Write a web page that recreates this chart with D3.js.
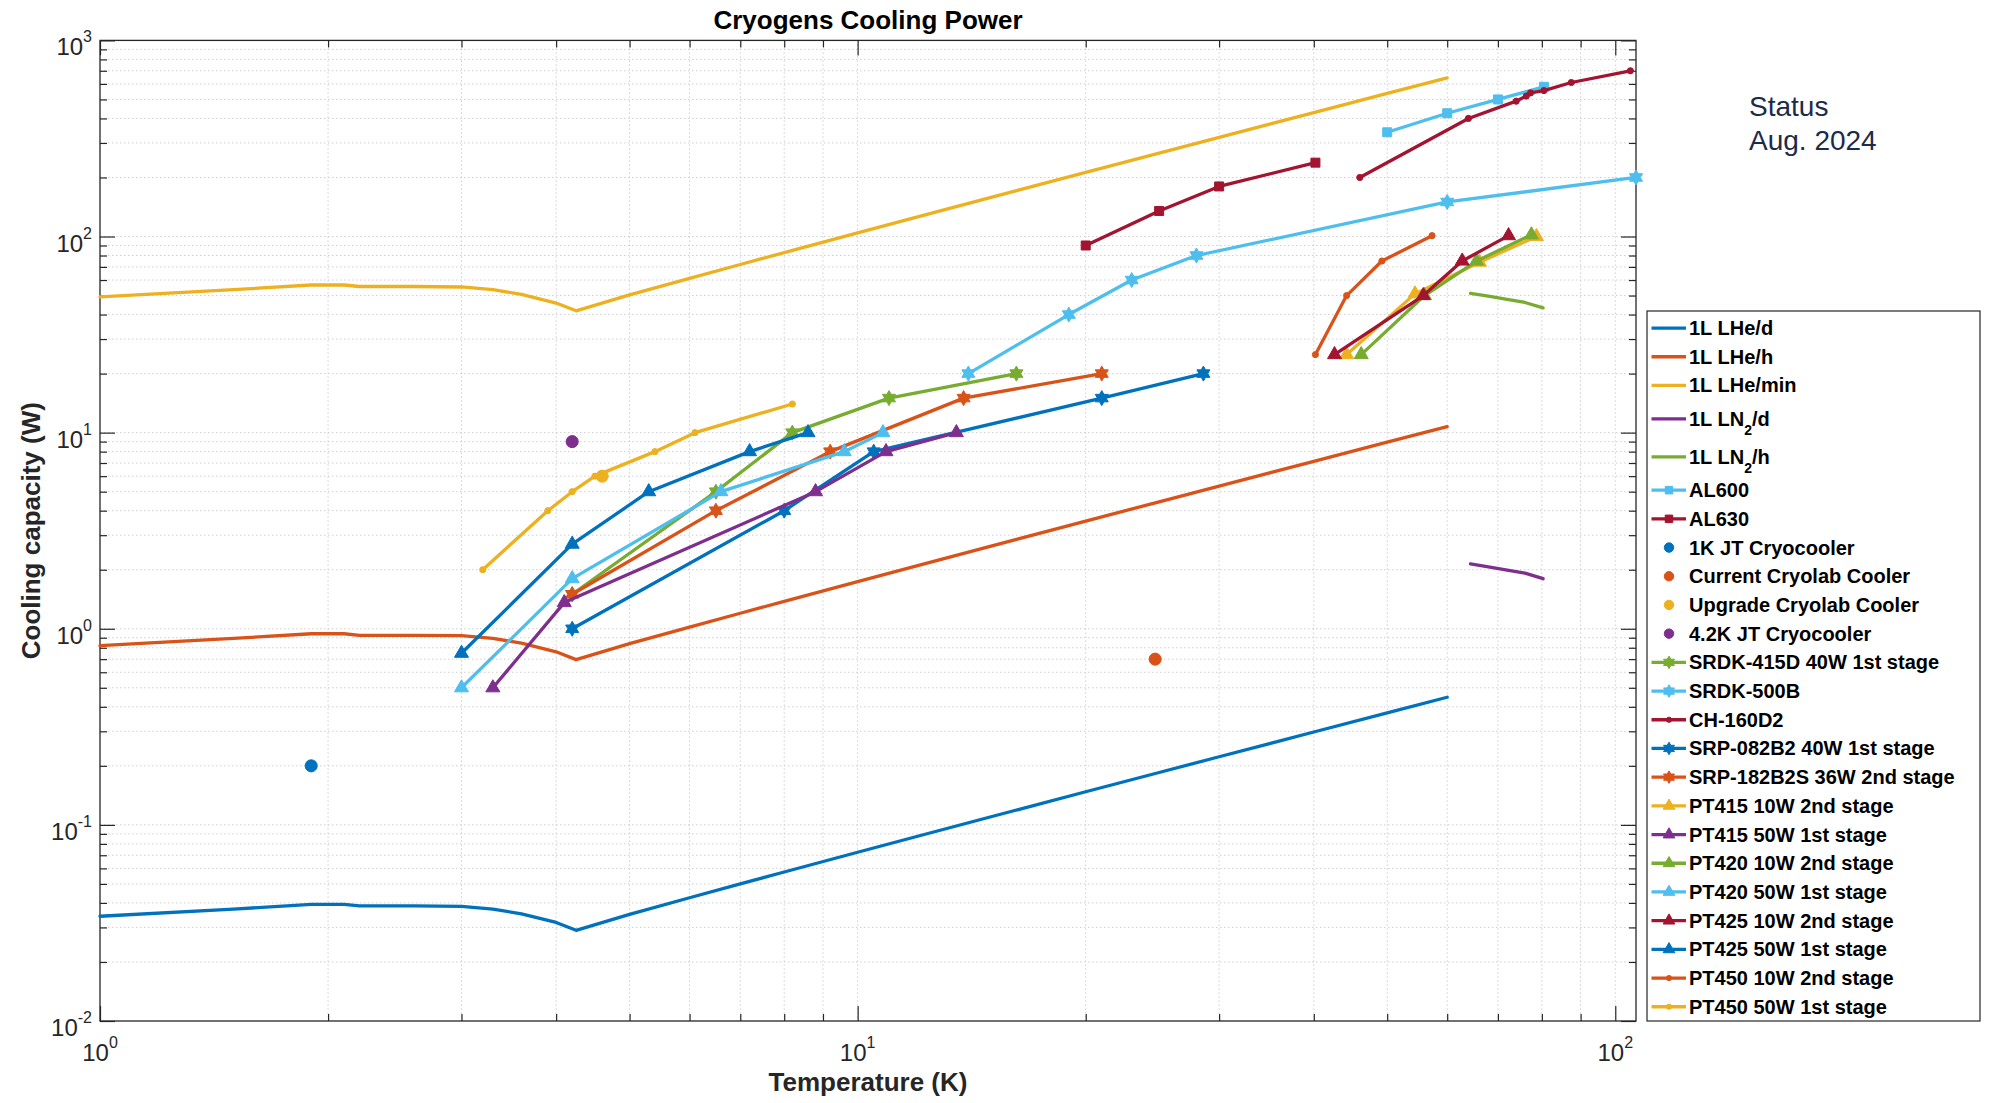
<!DOCTYPE html>
<html>
<head>
<meta charset="utf-8">
<script src="https://cdn.jsdelivr.net/npm/d3@7"></script>
<style>
  body { margin: 0; background: #fff; }
  svg { display: block; font-family: "Liberation Sans", Arial, sans-serif; }
</style>
</head>
<body>
<svg id="chart" width="1995" height="1103"></svg>
<script>
// Cryogens cooling power - log/log chart

// liquid helium boil-off curves (same temperatures for the 3 rates)
const heTemps = [1, 1.5, 1.9, 2.1, 2.2, 2.6, 3.0, 3.3, 3.6, 4.0, 4.25, 5, 6, 7, 8, 10, 12, 15, 20, 25, 30, 40, 50, 60];
const lheDay  = [0.0342, 0.0372, 0.0393, 0.0393, 0.0386, 0.0386, 0.0384, 0.0372, 0.0352, 0.0318, 0.0290, 0.0350, 0.0425, 0.0500, 0.0575, 0.0725, 0.0875, 0.110, 0.1475, 0.185, 0.2225, 0.2975, 0.3725, 0.4475];
const lheHour = [0.821, 0.893, 0.943, 0.943, 0.926, 0.926, 0.922, 0.893, 0.845, 0.763, 0.696, 0.840, 1.02, 1.20, 1.38, 1.74, 2.10, 2.64, 3.54, 4.44, 5.34, 7.14, 8.94, 10.74];
const lheMin  = [49.2, 53.6, 56.6, 56.6, 55.6, 55.6, 55.3, 53.6, 50.7, 45.8, 41.8, 50.4, 61.2, 72.0, 82.8, 104.4, 126, 158.4, 212.4, 266.4, 320.4, 428.4, 536.4, 644.4];

// liquid nitrogen
const ln2Temps = [64.4, 68, 72, 76, 80.3];
const ln2Day   = [2.14, 2.07, 1.99, 1.92, 1.80];
const ln2Hour  = [51.3, 49.7, 47.8, 46.1, 43.3];

// cryocoolers (T in K, P in W)
const al600T = [50, 60, 70, 80.5],        al600P = [340, 425, 500, 580];
const al630T = [20, 25, 30, 40.2],        al630P = [90, 135, 180, 238];
const jt1kT = [1.9],                      jt1kP = [0.2];
const cryolabT = [24.7],                  cryolabP = [0.7];
const cryolabUpT = [4.6],                 cryolabUpP = [6];
const jt42T = [4.2],                      jt42P = [9];
const srdk415T = [4.2, 6.5, 8.2, 11, 16.2],            srdk415P = [1.5, 5, 10, 15, 20];
const srdk500T = [14, 19, 23, 28, 60, 106.5],          srdk500P = [20, 40, 60, 80, 150, 200];
const ch160T = [46, 64, 74, 76.3, 77.3, 80.5, 87.5, 104.7], ch160P = [200, 400, 490, 520, 540, 555, 610, 700];
const srp082T = [4.2, 8, 10.5, 21, 28.6],              srp082P = [1, 4, 8, 15, 20];
const srp182T = [4.2, 6.5, 9.2, 13.8, 21],             srp182P = [1.5, 4, 8, 15, 20];
const pt415_10T = [44.2, 54.4, 66.2, 78.7],            pt415_10P = [25, 51, 74, 100];
const pt415_50T = [3.3, 4.1, 8.8, 10.9, 13.5],         pt415_50P = [0.5, 1.36, 5, 8, 10];
const pt420_10T = [46.2, 56, 65.6, 77.5],              pt420_10P = [25, 50, 75, 102];
const pt420_50T = [3, 4.2, 6.6, 9.6, 10.8],            pt420_50P = [0.5, 1.8, 5, 8, 10];
const pt425_10T = [42.6, 55.8, 62.8, 72.3],            pt425_10P = [25, 50, 75, 101];
const pt425_50T = [3, 4.2, 5.3, 7.2, 8.6],             pt425_50P = [0.75, 2.7, 5, 8, 10];
const pt450_10T = [40.2, 44.2, 49.2, 57.3],            pt450_10P = [25, 50, 75, 101];
const pt450_50T = [3.2, 3.9, 4.2, 4.5, 5.4, 6.1, 8.2], pt450_50P = [2, 4, 5, 6, 8, 10, 14];

const legendNames = ["1L LHe/d", "1L LHe/h", "1L LHe/min", "1L LN_2/d", "1L LN_2/h",
  "AL600", "AL630", "1K JT Cryocooler", "Current Cryolab Cooler", "Upgrade Cryolab Cooler",
  "4.2K JT Cryocooler", "SRDK-415D 40W 1st stage", "SRDK-500B", "CH-160D2",
  "SRP-082B2 40W 1st stage", "SRP-182B2S 36W 2nd stage", "PT415 10W 2nd stage",
  "PT415 50W 1st stage", "PT420 10W 2nd stage", "PT420 50W 1st stage",
  "PT425 10W 2nd stage", "PT425 50W 1st stage", "PT450 10W 2nd stage", "PT450 50W 1st stage"];

// matlab default colour order
const C = { blue: "#0072BD", orange: "#D95319", yellow: "#EDB120", purple: "#7E2F8E",
            green: "#77AC30", cyan: "#4DBEEE", red: "#A2142F" };

// hexagram marker ('h' in matlab)
const symbolHexagram = {
  draw(ctx, size) {
    const r = Math.sqrt(size) * 0.84, ri = r / Math.sqrt(3);
    for (let i = 0; i < 12; i++) {
      const a = -Math.PI / 2 + i * Math.PI / 6, rr = i % 2 ? ri : r;
      if (i === 0) ctx.moveTo(rr * Math.cos(a), rr * Math.sin(a));
      else ctx.lineTo(rr * Math.cos(a), rr * Math.sin(a));
    }
    ctx.closePath();
  }
};
const M = {
  square: [d3.symbolSquare, 81], dot: [d3.symbolCircle, 30], circle: [d3.symbolCircle, 115],
  hex: [symbolHexagram, 80], tri: [d3.symbolTriangle, 85]
};

const series = [
  { T: heTemps, P: lheDay,  color: C.blue,   line: true },
  { T: heTemps, P: lheHour, color: C.orange, line: true },
  { T: heTemps, P: lheMin,  color: C.yellow, line: true },
  { T: ln2Temps, P: ln2Day,  color: C.purple, line: true },
  { T: ln2Temps, P: ln2Hour, color: C.green,  line: true },
  { T: al600T, P: al600P, color: C.cyan, line: true, marker: "square" },
  { T: al630T, P: al630P, color: C.red,  line: true, marker: "square" },
  { T: jt1kT, P: jt1kP, color: C.blue, marker: "circle" },
  { T: cryolabT, P: cryolabP, color: C.orange, marker: "circle" },
  { T: cryolabUpT, P: cryolabUpP, color: C.yellow, marker: "circle" },
  { T: jt42T, P: jt42P, color: C.purple, marker: "circle" },
  { T: srdk415T, P: srdk415P, color: C.green, line: true, marker: "hex" },
  { T: srdk500T, P: srdk500P, color: C.cyan, line: true, marker: "hex" },
  { T: ch160T, P: ch160P, color: C.red, line: true, marker: "dot" },
  { T: srp082T, P: srp082P, color: C.blue, line: true, marker: "hex" },
  { T: srp182T, P: srp182P, color: C.orange, line: true, marker: "hex" },
  { T: pt415_10T, P: pt415_10P, color: C.yellow, line: true, marker: "tri" },
  { T: pt415_50T, P: pt415_50P, color: C.purple, line: true, marker: "tri" },
  { T: pt420_10T, P: pt420_10P, color: C.green, line: true, marker: "tri" },
  { T: pt420_50T, P: pt420_50P, color: C.cyan, line: true, marker: "tri" },
  { T: pt425_10T, P: pt425_10P, color: C.red, line: true, marker: "tri" },
  { T: pt425_50T, P: pt425_50P, color: C.blue, line: true, marker: "tri" },
  { T: pt450_10T, P: pt450_10P, color: C.orange, line: true, marker: "dot" },
  { T: pt450_50T, P: pt450_50P, color: C.yellow, line: true, marker: "dot" }
];
series.forEach((s, i) => s.name = legendNames[i]);

const svg = d3.select("#chart");
const plot = { left: 100, right: 1636, top: 40.4, bottom: 1021 };
const axisColor = "#262626";

const x = d3.scaleLog().domain([1, 106.5]).range([plot.left, plot.right]);
const y = d3.scaleLog().domain([0.01, 1000]).range([plot.bottom, plot.top]);

const isMajor = v => Math.abs(Math.log10(v) - Math.round(Math.log10(v))) < 1e-9;
const xTicks = x.ticks(), yTicks = y.ticks();

// grid (dotted, minor + major)
const grid = svg.append("g").attr("stroke", "#cfcfcf").attr("stroke-width", 1).attr("stroke-dasharray", "1.5,2.5");
grid.selectAll(".gx").data(xTicks.filter(d => d > 1)).enter().append("line")
  .attr("x1", d => x(d)).attr("x2", d => x(d)).attr("y1", plot.top).attr("y2", plot.bottom);
grid.selectAll(".gy").data(yTicks.filter(d => d > 0.01 && d < 1000)).enter().append("line")
  .attr("y1", d => y(d)).attr("y2", d => y(d)).attr("x1", plot.left).attr("x2", plot.right);

// inward ticks on all four sides
function tickRow(axisFn, scale, vals, size, tr) {
  svg.append("g").attr("transform", tr)
    .call(axisFn(scale).tickValues(vals).tickSize(size).tickFormat(""))
    .call(g => g.select(".domain").remove())
    .selectAll("line").attr("stroke", axisColor).attr("stroke-width", 1.2);
}
[[xTicks.filter(d => !isMajor(d)), -7], [xTicks.filter(isMajor), -15]].forEach(([v, s]) => {
  tickRow(d3.axisBottom, x, v, s, `translate(0,${plot.bottom})`);
  tickRow(d3.axisTop, x, v, s, `translate(0,${plot.top})`);
});
[[yTicks.filter(d => !isMajor(d)), -7], [yTicks.filter(isMajor), -15]].forEach(([v, s]) => {
  tickRow(d3.axisLeft, y, v, s, `translate(${plot.left},0)`);
  tickRow(d3.axisRight, y, v, s, `translate(${plot.right},0)`);
});

svg.append("rect")
  .attr("x", plot.left).attr("y", plot.top)
  .attr("width", plot.right - plot.left).attr("height", plot.bottom - plot.top)
  .attr("fill", "none").attr("stroke", axisColor).attr("stroke-width", 1.3);

// tick labels 10^n
function powLabel(sel, v) {
  sel.append("tspan").attr("font-size", 24).text("10");
  sel.append("tspan").attr("font-size", 16).attr("dy", -13).text(Math.round(Math.log10(v)));
}
yTicks.filter(isMajor).forEach(v => {
  svg.append("text").attr("x", 92).attr("y", y(v) + 15)
    .attr("text-anchor", "end").attr("fill", axisColor).call(powLabel, v);
});
xTicks.filter(isMajor).forEach(v => {
  svg.append("text").attr("x", x(v)).attr("y", 1061)
    .attr("text-anchor", "middle").attr("fill", axisColor).call(powLabel, v);
});

// titles
svg.append("text").attr("x", (plot.left + plot.right) / 2).attr("y", 29)
  .attr("text-anchor", "middle").attr("font-size", 26).attr("font-weight", "bold")
  .attr("fill", "#000").text("Cryogens Cooling Power");
svg.append("text").attr("x", (plot.left + plot.right) / 2).attr("y", 1091)
  .attr("text-anchor", "middle").attr("font-size", 26).attr("font-weight", "bold")
  .attr("fill", axisColor).text("Temperature (K)");
svg.append("text")
  .attr("transform", `translate(40,${(plot.top + plot.bottom) / 2}) rotate(-90)`)
  .attr("text-anchor", "middle").attr("font-size", 26).attr("font-weight", "bold")
  .attr("fill", axisColor).text("Cooling capacity (W)");

// series
const line = d3.line().x(d => x(d[0])).y(d => y(d[1]));
const gSeries = svg.append("g");
series.forEach(s => {
  const pts = s.T.map((t, i) => [t, s.P[i]]);
  if (s.line) {
    gSeries.append("path").datum(pts).attr("d", line)
      .attr("fill", "none").attr("stroke", s.color).attr("stroke-width", 3.3)
      .attr("stroke-linejoin", "round").attr("stroke-linecap", "round");
  }
  if (s.marker) {
    const [type, size] = M[s.marker];
    gSeries.selectAll(null).data(pts).enter().append("path")
      .attr("transform", d => `translate(${x(d[0])},${y(d[1])})`)
      .attr("d", d3.symbol(type, size))
      .attr("fill", s.color).attr("stroke", s.color).attr("stroke-width", 1);
  }
});

// status note
const note = svg.append("text").attr("x", 1749).attr("font-size", 28).attr("fill", "#1c2b4a");
note.append("tspan").attr("x", 1749).attr("y", 116).text("Status");
note.append("tspan").attr("x", 1749).attr("y", 150).text("Aug. 2024");

// legend
const leg = svg.append("g");
leg.append("rect").attr("x", 1647).attr("y", 311).attr("width", 333).attr("height", 710)
  .attr("fill", "#fff").attr("stroke", axisColor).attr("stroke-width", 1.2);
let yy = 313.7;
series.forEach(s => {
  const hasSub = s.name.includes("_");
  const h = hasSub ? 38 : 28.7;
  const cy = yy + h / 2;
  yy += h;
  if (s.line) {
    leg.append("line").attr("x1", 1651.5).attr("x2", 1686).attr("y1", cy).attr("y2", cy)
      .attr("stroke", s.color).attr("stroke-width", 3.3);
  }
  if (s.marker) {
    const [type, size] = M[s.marker];
    leg.append("path").attr("transform", `translate(1669,${cy})`)
      .attr("d", d3.symbol(type, s.marker === "circle" ? 70 : size * 0.7))
      .attr("fill", s.color).attr("stroke", s.color);
  }
  const t = leg.append("text").attr("x", 1689).attr("y", cy + 7)
    .attr("font-size", 20).attr("font-weight", "bold").attr("fill", "#000");
  const parts = s.name.split(/_(\d)/);
  if (parts.length === 1) t.text(s.name);
  else {
    t.append("tspan").text(parts[0]);
    t.append("tspan").attr("font-size", 14).attr("dy", 9).text(parts[1]);
    t.append("tspan").attr("dy", -9).text(parts[2]);
  }
});
</script>
</body>
</html>
